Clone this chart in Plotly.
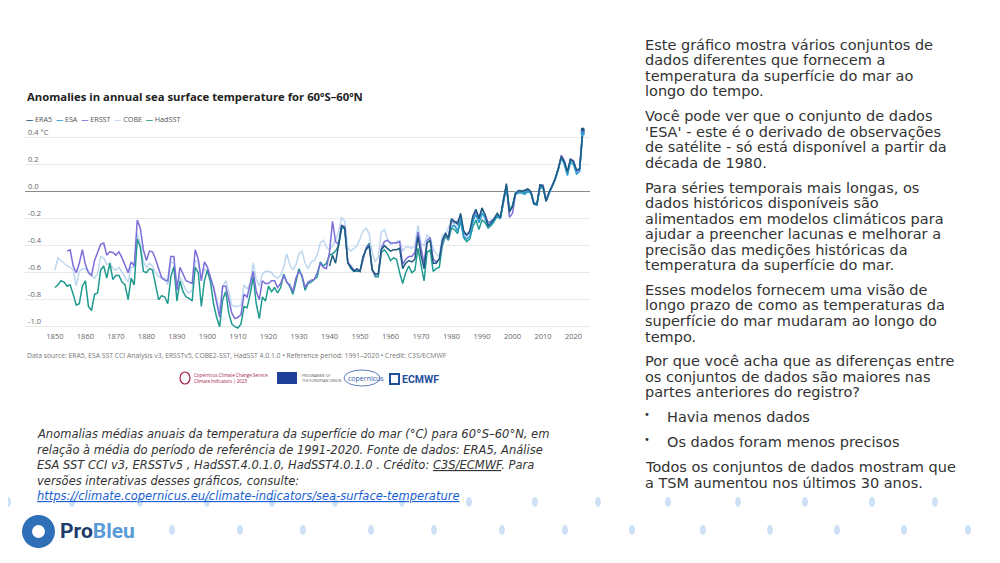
import plotly.graph_objects as go

# ---------------- DATA ----------------
years_hadsst = list(range(1850, 2024))
hadsst = [-0.71, -0.69, -0.66, -0.67, -0.70, -0.69, -0.76, -0.84, -0.83, -0.70,
          -0.66, -0.85, -0.88, -0.76, -0.75, -0.58, -0.55, -0.64, -0.53, -0.65,
          -0.62, -0.62, -0.67, -0.69, -0.80, -0.64, -0.69, -0.35, -0.41, -0.59,
          -0.60, -0.57, -0.58, -0.70, -0.80, -0.77, -0.78, -0.83, -0.63, -0.555,
          -0.81, -0.66, -0.74, -0.78, -0.79, -0.81, -0.56, -0.60, -0.85, -0.66,
          -0.58, -0.67, -0.83, -0.93, -1.00, -0.80, -0.74, -0.90, -0.98, -1.00,
          -1.01, -0.98, -0.85, -0.86, -0.76, -0.63, -0.83, -0.94, -0.78, -0.81,
          -0.70, -0.74, -0.71, -0.75, -0.71, -0.61, -0.67, -0.70, -0.76, -0.67,
          -0.57, -0.63, -0.73, -0.68, -0.67, -0.65, -0.63, -0.52, -0.55, -0.53,
          -0.47, -0.46, -0.44, -0.40, -0.27, -0.27, -0.52, -0.57, -0.59, -0.59,
          -0.59, -0.50, -0.42, -0.38, -0.57, -0.63, -0.63, -0.45, -0.43, -0.46,
          -0.51, -0.49, -0.50, -0.60, -0.68, -0.60, -0.55, -0.60, -0.58, -0.42,
          -0.53, -0.66, -0.45, -0.43, -0.59, -0.57, -0.56, -0.40, -0.33, -0.36,
          -0.27, -0.28, -0.31, -0.22, -0.34, -0.37, -0.35, -0.26, -0.21, -0.28,
          -0.21, -0.23, -0.27, -0.25, -0.22, -0.18, -0.20, -0.08, 0.04, -0.14,
          -0.10, -0.01, 0.00, 0.01, -0.01, 0.02, 0.00, -0.08, -0.10, 0.04,
          0.03, -0.07, -0.01, 0.04, 0.09, 0.17, 0.26, 0.22, 0.14, 0.24,
          0.22, 0.15, 0.17, 0.44]

years_cobe = list(range(1850, 2024))
cobe = [-0.58, -0.49, -0.51, -0.53, -0.55, -0.56, -0.58, -0.70, -0.59, -0.57,
        -0.57, -0.59, -0.62, -0.64, -0.61, -0.48, -0.49, -0.54, -0.53, -0.57,
        -0.58, -0.56, -0.60, -0.63, -0.67, -0.56, -0.56, -0.31, -0.39, -0.52,
        -0.56, -0.53, -0.55, -0.60, -0.63, -0.63, -0.64, -0.69, -0.52, -0.53,
        -0.68, -0.63, -0.68, -0.73, -0.75, -0.73, -0.51, -0.52, -0.64, -0.57,
        -0.59, -0.66, -0.70, -0.80, -0.88, -0.70, -0.66, -0.74, -0.84, -0.85,
        -0.85, -0.84, -0.69, -0.72, -0.68, -0.53, -0.65, -0.70, -0.61, -0.59,
        -0.59, -0.60, -0.63, -0.64, -0.62, -0.56, -0.46, -0.54, -0.58, -0.54,
        -0.46, -0.44, -0.53, -0.57, -0.52, -0.51, -0.47, -0.38, -0.36, -0.41,
        -0.43, -0.40, -0.36, -0.30, -0.19, -0.22, -0.42, -0.44, -0.42, -0.40,
        -0.35, -0.29, -0.27, -0.31, -0.45, -0.52, -0.48, -0.30, -0.28, -0.35,
        -0.39, -0.38, -0.37, -0.36, -0.44, -0.41, -0.41, -0.42, -0.40, -0.25,
        -0.38, -0.40, -0.32, -0.34, -0.42, -0.46, -0.48, -0.32, -0.32, -0.27,
        -0.21, -0.26, -0.25, -0.20, -0.33, -0.33, -0.30, -0.20, -0.16, -0.23,
        -0.16, -0.22, -0.23, -0.21, -0.19, -0.16, -0.20, -0.05, 0.04, -0.16,
        -0.10, 0.00, 0.00, 0.00, 0.00, 0.01, -0.01, -0.08, -0.09, 0.04,
        0.03, -0.06, 0.00, 0.05, 0.09, 0.17, 0.25, 0.22, 0.14, 0.24,
        0.22, 0.16, 0.16, 0.43]

years_ersst = list(range(1854, 2024))
ersst = [-0.44, -0.43, -0.55, -0.60, -0.53, -0.43,
         -0.54, -0.60, -0.62, -0.51, -0.45, -0.39, -0.38, -0.47, -0.445, -0.45,
         -0.47, -0.445, -0.49, -0.55, -0.60, -0.52, -0.55, -0.21, -0.27, -0.43,
         -0.51, -0.44, -0.445, -0.50, -0.58, -0.64, -0.655, -0.66, -0.48, -0.48,
         -0.73, -0.56, -0.61, -0.66, -0.67, -0.68, -0.43, -0.50, -0.66, -0.52,
         -0.56, -0.64, -0.71, -0.82, -0.93, -0.70, -0.70, -0.80, -0.90, -0.94,
         -0.93, -0.91, -0.76, -0.78, -0.69, -0.59, -0.74, -0.80, -0.66, -0.68,
         -0.68, -0.66, -0.66, -0.71, -0.68, -0.62, -0.67, -0.69, -0.74, -0.64,
         -0.59, -0.62, -0.71, -0.67, -0.655, -0.65, -0.60, -0.53, -0.56, -0.57,
         -0.45, -0.22, -0.37, -0.39, -0.25, -0.26, -0.52, -0.55, -0.58, -0.58,
         -0.59, -0.50, -0.42, -0.39, -0.58, -0.62, -0.61, -0.42, -0.37, -0.36,
         -0.38, -0.38, -0.38, -0.37, -0.54, -0.50, -0.48, -0.48, -0.45, -0.30,
         -0.42, -0.53, -0.36, -0.34, -0.50, -0.52, -0.50, -0.38, -0.31, -0.35,
         -0.21, -0.23, -0.22, -0.18, -0.31, -0.32, -0.30, -0.22, -0.14, -0.19,
         -0.13, -0.17, -0.23, -0.22, -0.20, -0.17, -0.20, -0.08, 0.05, -0.19,
         -0.16, -0.02, 0.00, 0.00, 0.01, 0.01, 0.00, -0.09, -0.10, 0.05,
         0.05, -0.06, -0.01, 0.05, 0.10, 0.17, 0.27, 0.23, 0.14, 0.24,
         0.23, 0.15, 0.16, 0.45]

years_era5 = list(range(1940, 2024))
era5 = [-0.55, -0.47, -0.53, -0.40, -0.25, -0.27, -0.53, -0.56, -0.59, -0.57,
        -0.59, -0.48, -0.43, -0.40, -0.58, -0.61, -0.61, -0.43, -0.40, -0.42,
        -0.44, -0.43, -0.43, -0.42, -0.57, -0.53, -0.51, -0.52, -0.50, -0.33,
        -0.47, -0.57, -0.38, -0.36, -0.53, -0.53, -0.50, -0.36, -0.31, -0.34,
        -0.20, -0.22, -0.24, -0.16, -0.29, -0.32, -0.29, -0.18, -0.13, -0.20,
        -0.12, -0.17, -0.25, -0.23, -0.20, -0.16, -0.19, -0.06, 0.06, -0.15,
        -0.11, -0.01, 0.01, 0.00, 0.01, 0.02, 0.00, -0.09, -0.09, 0.05,
        0.04, -0.07, 0.00, 0.04, 0.10, 0.17, 0.26, 0.22, 0.15, 0.24,
        0.22, 0.16, 0.17, 0.46]

years_esa = list(range(1980, 2024))
esa = [-0.26, -0.25, -0.29, -0.20, -0.33, -0.35, -0.33, -0.22, -0.17, -0.23,
       -0.16, -0.19, -0.26, -0.24, -0.21, -0.17, -0.20, -0.07, 0.04, -0.14,
       -0.11, -0.02, -0.01, -0.01, -0.02, 0.00, -0.01, -0.09, -0.10, 0.03,
       0.03, -0.07, -0.01, 0.04, 0.09, 0.16, 0.25, 0.20, 0.12, 0.22,
       0.20, 0.13, 0.15, 0.43]

x_ticks = list(range(1850, 2021, 10))
y_ticks = [0.4, 0.2, 0.0, -0.2, -0.4, -0.6, -0.8, -1.0]
y_ticktext = ["0.4 °C", "0.2", "0.0", "-0.2", "-0.4", "-0.6", "-0.8", "-1.0"]

# ---------------- STYLE ----------------
C_ERA5 = "#1d5a80"
C_ESA = "#2b9bd3"
C_ERSST = "#7a6ed8"
C_COBE = "#bdd7ef"
C_HAD = "#1f9a8f"

W, H = 1000, 563
OX, OY = 8, 8  # page offset of the plot div


def px(x):
    return (x - OX) / W


def py(y):
    return 1 - (y - OY) / H


fig = go.Figure()
series = [
    ("COBE", years_cobe, cobe, C_COBE),
    ("HadSST", years_hadsst, hadsst, C_HAD),
    ("ERSST", years_ersst, ersst, C_ERSST),
    ("ESA", years_esa, esa, C_ESA),
    ("ERA5", years_era5, era5, C_ERA5),
]
for name, xs, ys, col in series:
    fig.add_trace(go.Scatter(x=xs, y=ys, mode="lines", name=name,
                             line=dict(color=col, width=1.5),
                             showlegend=False, hoverinfo="x+y+name"))
for name, xs, ys, col in series:
    fig.add_trace(go.Scatter(x=xs[-1:], y=ys[-1:], mode="markers",
                             marker=dict(color=col, size=4),
                             showlegend=False, hoverinfo="skip"))

# plot area: y px 120 .. 330 ; value 0 at 191.7 px, 135 px per unit
Y_TOP, Y_BOT = 120, 330
v_top = (191.7 - Y_TOP) / 135
v_bot = (191.7 - Y_BOT) / 135

fig.update_layout(
    width=W, height=H, autosize=False,
    margin=dict(l=0, r=0, t=0, b=0),
    paper_bgcolor="white", plot_bgcolor="white",
    font=dict(family="Open Sans, DejaVu Sans, sans-serif", color="#444"),
    xaxis=dict(domain=[px(25), px(590)], range=[1840.2, 2025.4],
               tickvals=x_ticks, showgrid=False, zeroline=False,
               ticks="", showline=False,
               tickfont=dict(size=7.5, color="#666")),
    yaxis=dict(domain=[py(Y_BOT), py(Y_TOP)], range=[v_bot, v_top],
               tickvals=y_ticks, ticktext=y_ticktext,
               ticklabelposition="inside top",
               showgrid=True, gridcolor="#e9e9e9", gridwidth=1,
               zeroline=True, zerolinecolor="#8a8a8a", zerolinewidth=1.2,
               ticks="", showline=False,
               tickfont=dict(size=7.5, color="#666")),
)

ann = []
ann.append(dict(x=px(25), y=py(97), xref="paper", yref="paper",
                xanchor="left", yanchor="middle", showarrow=False,
                text="<b>Anomalies in annual sea surface temperature for 60ºS–60ºN</b>",
                font=dict(family="Open Sans, sans-serif", size=11.3, color="#222")))
leg_items = [("ERA5", C_ERA5), ("ESA", C_ESA), ("ERSST", C_ERSST),
             ("COBE", C_COBE), ("HadSST", C_HAD)]
leg_text = "  ".join(f"<span style='color:{c}'><b>—</b></span> {n}" for n, c in leg_items)
ann.append(dict(x=px(24), y=py(119), xref="paper", yref="paper",
                xanchor="left", yanchor="middle", showarrow=False,
                text=leg_text, font=dict(size=7.2, color="#555")))
ann.append(dict(x=px(25), y=py(355), xref="paper", yref="paper",
                xanchor="left", yanchor="middle", showarrow=False,
                text="Data source: ERA5, ESA SST CCI Analysis v3, ERSSTv5, COBE2-SST, HadSST 4.0.1.0 • Reference period: 1991–2020 • Credit: C3S/ECMWF",
                font=dict(size=6.8, color="#777")))
ann.append(dict(x=px(192), y=py(378), xref="paper", yref="paper",
                xanchor="left", yanchor="middle", showarrow=False, align="left",
                text="Copernicus Climate Change Service<br>Climate Indicators | 2023",
                font=dict(size=4.5, color="#a3214b")))
ann.append(dict(x=px(300), y=py(378), xref="paper", yref="paper",
                xanchor="left", yanchor="middle", showarrow=False, align="left",
                text="PROGRAMME OF<br>THE EUROPEAN UNION",
                font=dict(size=3.6, color="#555")))
ann.append(dict(x=px(346), y=py(378), xref="paper", yref="paper",
                xanchor="left", yanchor="middle", showarrow=False,
                text="copernicus", font=dict(size=7, color="#2f5da8")))
ann.append(dict(x=px(400), y=py(379), xref="paper", yref="paper",
                xanchor="left", yanchor="middle", showarrow=False,
                text="<b>ECMWF</b>", font=dict(family="Roboto, sans-serif", size=10.5, color="#1f4f9d")))

cap_lines = [
    (434, "Anomalias médias anuais da temperatura da superfície do mar (°C) para 60°S–60°N, em"),
    (450, "relação à média do período de referência de 1991-2020. Fonte de dados: ERA5, Análise"),
    (465, "ESA SST CCI v3, ERSSTv5 , HadSST.4.0.1.0, HadSST4.0.1.0 . Crédito: <u>C3S/ECMWF</u>. Para"),
    (481, "versões interativas desses gráficos, consulte:"),
    (496, "<span style='color:#1a5fd0'><u>https://climate.copernicus.eu/climate-indicators/sea-surface-temperature</u></span>"),
]
for y, t in cap_lines:
    ann.append(dict(x=px(35), y=py(y), xref="paper", yref="paper",
                    xanchor="left", yanchor="middle", showarrow=False,
                    text=f"<i>{t}</i>",
                    font=dict(family="DejaVu Sans, sans-serif", size=11.5, color="#333")))

right_lines = [
    (45, "Este gráfico mostra vários conjuntos de"),
    (60, "dados diferentes que fornecem a"),
    (76, "temperatura da superfície do mar ao"),
    (91, "longo do tempo."),
    (116, "Você pode ver que o conjunto de dados"),
    (132, "'ESA' - este é o derivado de observações"),
    (147, "de satélite - só está disponível a partir da"),
    (163, "década de 1980."),
    (188, "Para séries temporais mais longas, os"),
    (203, "dados históricos disponíveis são"),
    (219, "alimentados em modelos climáticos para"),
    (234, "ajudar a preencher lacunas e melhorar a"),
    (250, "precisão das medições históricas da"),
    (265, "temperatura da superfície do mar."),
    (290, "Esses modelos fornecem uma visão de"),
    (305, "longo prazo de como as temperaturas da"),
    (321, "superfície do mar mudaram ao longo do"),
    (337, "tempo."),
    (361, "Por que você acha que as diferenças entre"),
    (377, "os conjuntos de dados são maiores nas"),
    (392, "partes anteriores do registro?"),
    (467, "Todos os conjuntos de dados mostram que"),
    (483, "a TSM aumentou nos últimos 30 anos."),
]
for y, t in right_lines:
    ann.append(dict(x=px(643), y=py(y), xref="paper", yref="paper",
                    xanchor="left", yanchor="middle", showarrow=False,
                    text=t, font=dict(family="DejaVu Sans, sans-serif", size=14.5, color="#333")))
for y, t in [(417, "Havia menos dados"), (442, "Os dados foram menos precisos")]:
    ann.append(dict(x=px(642), y=py(y - 3), xref="paper", yref="paper",
                    xanchor="left", yanchor="middle", showarrow=False,
                    text="•", font=dict(family="DejaVu Sans, sans-serif", size=10, color="#333")))
    ann.append(dict(x=px(665), y=py(y), xref="paper", yref="paper",
                    xanchor="left", yanchor="middle", showarrow=False,
                    text=t, font=dict(family="DejaVu Sans, sans-serif", size=14.5, color="#333")))

ann.append(dict(x=px(58), y=py(531), xref="paper", yref="paper",
                xanchor="left", yanchor="middle", showarrow=False,
                text="<b><span style='color:#1d3b6b'>Pro</span><span style='color:#5a9ad6'>Bleu</span></b>",
                font=dict(family="Roboto, sans-serif", size=21)))
fig.update_layout(annotations=ann)

shapes = []
shapes.append(dict(type="rect", xref="paper", yref="paper",
                   x0=px(277), x1=px(297), y0=py(384), y1=py(372),
                   fillcolor="#1f3f99", line=dict(width=0)))
shapes.append(dict(type="circle", xref="paper", yref="paper",
                   x0=px(180), x1=px(190), y0=py(384), y1=py(372),
                   line=dict(color="#a3214b", width=1.2)))
shapes.append(dict(type="rect", xref="paper", yref="paper",
                   x0=px(390), x1=px(399), y0=py(384), y1=py(374),
                   line=dict(color="#1f4f9d", width=2)))
shapes.append(dict(type="circle", xref="paper", yref="paper",
                   x0=px(344), x1=px(380), y0=py(386), y1=py(370),
                   line=dict(color="#2f5da8", width=0.8)))
row1 = [8, 72, 140, 207, 272, 335, 402, 469, 535, 598, 668, 738, 805, 872, 935, 998]
row2 = [172, 240, 303, 371, 434, 502, 565, 632, 703, 770, 837, 904, 968]
for xs_, yc in [(row1, 502), (row2, 530)]:
    for xc in xs_:
        shapes.append(dict(type="circle", xref="paper", yref="paper",
                           x0=px(xc - 3), x1=px(xc + 3),
                           y0=py(yc + 5), y1=py(yc - 5),
                           fillcolor="#cfe1f6", line=dict(width=0), layer="below"))
shapes.append(dict(type="circle", xref="paper", yref="paper",
                   x0=px(22), x1=px(55), y0=py(548), y1=py(515),
                   fillcolor="#2e6fb8", line=dict(width=0)))
shapes.append(dict(type="circle", xref="paper", yref="paper",
                   x0=px(32), x1=px(45), y0=py(538), y1=py(525),
                   fillcolor="white", line=dict(width=0)))
fig.update_layout(shapes=shapes)

fig.write_html("out.html")
